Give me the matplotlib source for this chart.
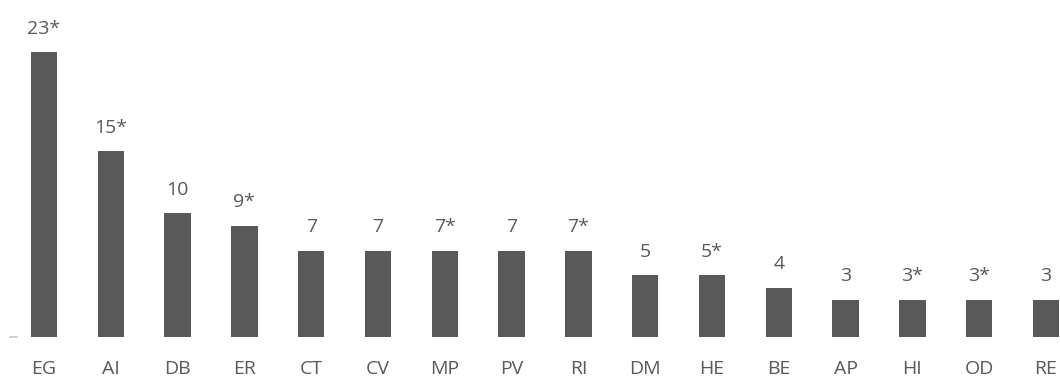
import matplotlib.pyplot as plt
import numpy as np

categories = ["EG", "AI", "DB", "ER", "CT", "CV", "MP", "PV", "RI",
              "DM", "HE", "BE", "AP", "HI", "OD", "RE"]
values = [23, 15, 10, 9, 7, 7, 7, 7, 7, 5, 5, 4, 3, 3, 3, 3]
labels = ["23*", "15*", "10", "9*", "7", "7", "7*", "7", "7*",
          "5", "5*", "4", "3", "3*", "3*", "3"]

grey = "#595959"
plt.rcParams["font.family"] = ["Open Sans", "DejaVu Sans"]

fig = plt.figure(figsize=(10.6, 3.77), dpi=100)
ax = fig.add_axes([0, 39.7 / 377, 1, 337.3 / 377])

x = np.arange(len(categories))
ax.bar(x, values, width=0.397, color=grey)

for xi, v, lab in zip(x, values, labels):
    ax.annotate(lab, (xi, v), xytext=(0, 13.5), textcoords="offset points",
                ha="center", va="baseline", fontsize=14, color=grey)

ax.set_xlim(-44 / 66.8, 15 + 14 / 66.8)
ax.set_ylim(0, 337.3 / 12.39)
ax.set_xticks(x)
ax.set_xticklabels(categories, fontsize=14, color=grey)
ax.tick_params(axis="x", length=0, pad=16)
ax.set_yticks([])
for s in ax.spines.values():
    s.set_visible(False)

# small stub left of the first bar
ax.plot([-34 / 66.8, -27 / 66.8], [0, 0], color="#c8c8c8", linewidth=1.2,
        clip_on=False)

fig.savefig("out.png", dpi=100)
